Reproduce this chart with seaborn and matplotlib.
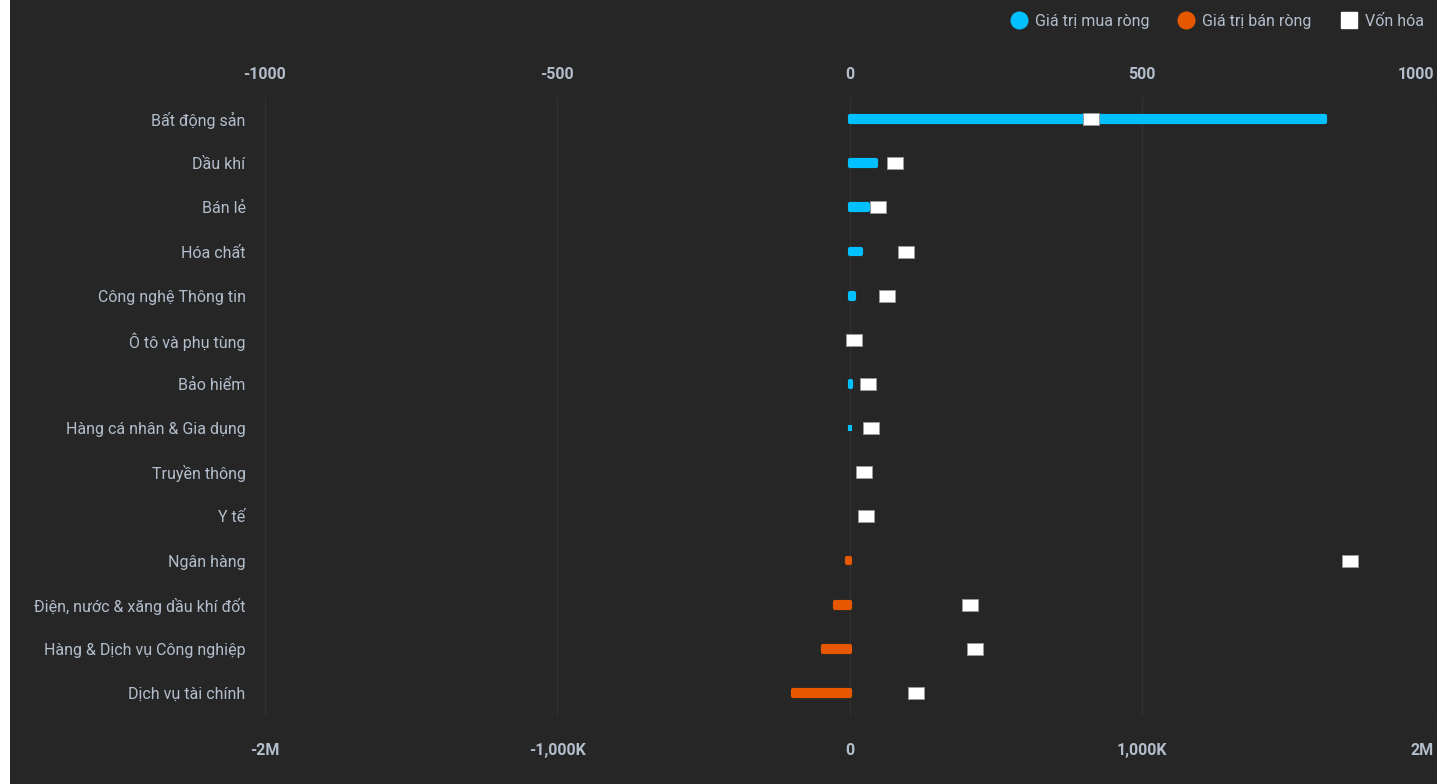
import numpy as np
import pandas as pd
import matplotlib
matplotlib.use("Agg")
import matplotlib.pyplot as plt
from matplotlib.lines import Line2D
from matplotlib.patches import Rectangle
import seaborn as sns

categories = ["Bất động sản", "Dầu khí", "Bán lẻ", "Hóa chất", "Công nghệ Thông tin",
              "Ô tô và phụ tùng", "Bảo hiểm", "Hàng cá nhân & Gia dụng", "Truyền thông",
              "Y tế", "Ngân hàng", "Điện, nước & xăng dầu khí đốt",
              "Hàng & Dịch vụ Công nghiệp", "Dịch vụ tài chính"]
net_values = [814, 46, 31, 19, 8.5, 0, 2, 1.5, 0, 0, -5, -24, -45, -96]
market_cap = [828e3, 154e3, 99e3, 195e3, 130e3, 14e3, 65e3, 72e3, 51e3, 55e3,
              1711e3, 414e3, 428e3, 226e3]
top_ticks = [-1000, -500, 0, 500, 1000]
bottom_ticks = [-2e6, -1e6, 0, 1e6, 2e6]
bottom_labels = ["-2M", "-1,000K", "0", "1,000K", "2M"]
series_names = ["Giá trị mua ròng", "Giá trị bán ròng", "Vốn hóa"]

BG = "#262626"
BLUE = "#00c0ff"
ORANGE = "#e65800"
TXT = "#b3becc"
GRID = "#313131"

sns.set_theme(style="dark")
plt.rcParams["font.family"] = ["Roboto", "DejaVu Sans"]

df = pd.DataFrame({
    "cat": categories,
    "val": net_values,
    "type": [series_names[0] if v >= 0 else series_names[1] for v in net_values],
})
cap_df = pd.DataFrame({"cat": categories, "cap": market_cap})

fig = plt.figure(figsize=(14.37, 7.84), dpi=100, facecolor=BG)
fig.patches.append(Rectangle((0, 0), 10 / 1437, 1, transform=fig.transFigure,
                             facecolor="#ffffff", edgecolor="none", zorder=-1))
ax = fig.add_axes([265 / 1437, 1 - 715 / 784, 1169 / 1437, 618 / 784])
ax.set_facecolor(BG)

sns.barplot(data=df, y="cat", x="val", hue="type", order=categories,
            hue_order=series_names[:2], palette=[BLUE, ORANGE], dodge=False,
            saturation=1, width=0.13, orient="h", ax=ax, legend=False, zorder=3)
for p in ax.patches:
    if p.get_width() == 0:
        p.set_visible(False)
        continue
    p.set_edgecolor(p.get_facecolor())
    p.set_linewidth(3.0)
    p.set_joinstyle("round")

ax.set_xlim(-1000, 1000)
ax.set_ylim(len(categories) - 0.5, -0.5)
ax.set_xlabel("")
ax.set_ylabel("")
ax.grid(axis="x", color=GRID, linewidth=1)
ax.grid(axis="y", visible=False)
for s in ax.spines.values():
    s.set_visible(False)
ax.tick_params(axis="y", colors=TXT, labelsize=11.5, length=0, pad=14)

ax2 = ax.twiny()
ax2.set_xlim(-2e6, 2e6)
rect_marker = [(-8, -5.5), (8, -5.5), (8, 5.5), (-8, 5.5), (-8, -5.5)]
sns.scatterplot(data=cap_df, x="cap", y="cat", ax=ax2, marker=rect_marker, s=135,
                color="#ffffff", edgecolor="#9a9a9a", linewidth=0.6, zorder=5, legend=False)
ax2.set_ylim(len(categories) - 0.5, -0.5)
ax2.set_xlabel("")
ax2.set_ylabel("")
ax2.grid(False)
for s in ax2.spines.values():
    s.set_visible(False)

# top axis: net values
ax.xaxis.set_ticks_position("top")
ax.xaxis.set_label_position("top")
ax.set_xticks(top_ticks)
ax.set_xticklabels([str(t) for t in top_ticks])
ax.tick_params(axis="x", which="both", top=True, bottom=False, labeltop=True,
               labelbottom=False, colors=TXT, labelsize=11.5, length=0, pad=11)
for lab in ax.get_xticklabels():
    lab.set_fontweight("bold")
ax.get_xticklabels()[-1].set_horizontalalignment("right")

# bottom axis: market cap
ax2.xaxis.set_ticks_position("bottom")
ax2.xaxis.set_label_position("bottom")
ax2.set_xticks(bottom_ticks)
ax2.set_xticklabels(bottom_labels)
ax2.tick_params(axis="x", which="both", top=False, bottom=True, labeltop=False,
                labelbottom=True, colors=TXT, labelsize=11.5, length=0, pad=20)
for lab in ax2.get_xticklabels():
    lab.set_fontweight("bold")
ax2.get_xticklabels()[-1].set_horizontalalignment("right")

handles = [
    Line2D([], [], marker="o", linestyle="none", markersize=12, markerfacecolor=BLUE,
           markeredgecolor=BLUE),
    Line2D([], [], marker="o", linestyle="none", markersize=12, markerfacecolor=ORANGE,
           markeredgecolor=ORANGE),
    Line2D([], [], marker="s", linestyle="none", markersize=11, markerfacecolor="#ffffff",
           markeredgecolor="#ffffff"),
]
leg = fig.legend(handles, series_names, loc="upper right", bbox_to_anchor=(1435 / 1437, 0.997),
                 ncol=3, frameon=False, fontsize=11.5, handletextpad=0.25, handlelength=1.5,
                 columnspacing=1.57, borderaxespad=0.3)
for t in leg.get_texts():
    t.set_color(TXT)

fig.savefig("out.png", dpi=100, facecolor=BG)
